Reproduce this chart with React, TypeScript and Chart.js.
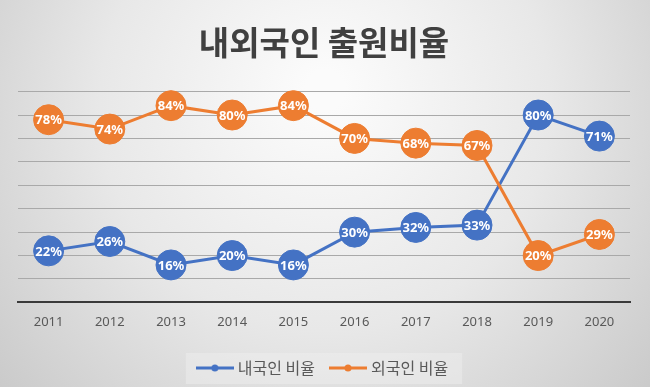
import React, { useEffect, useRef } from "react";
import { Chart, registerables } from "chart.js";

Chart.register(...registerables);

const categories = ["2011", "2012", "2013", "2014", "2015", "2016", "2017", "2018", "2019", "2020"];
const domesticRatio = [22, 26, 16, 20, 16, 30, 32, 33, 80, 71];
const foreignRatio = [78, 74, 84, 80, 84, 70, 68, 67, 20, 29];
const seriesNames = ["내국인 비율", "외국인 비율"];
const chartTitle = "내외국인 출원비율";
const yMin = 0;
const yMax = 90;
const yStep = 10;

const BLUE = "#4472C4";
const ORANGE = "#ED7D31";

function makeLegendIcon(color: string) {
  const c = document.createElement("canvas");
  c.width = 38;
  c.height = 10;
  const ctx = c.getContext("2d")!;
  ctx.strokeStyle = color;
  ctx.lineWidth = 3;
  ctx.beginPath();
  ctx.moveTo(0, 5);
  ctx.lineTo(38, 5);
  ctx.stroke();
  ctx.fillStyle = color;
  ctx.beginPath();
  ctx.arc(19, 5, 3.5, 0, Math.PI * 2);
  ctx.fill();
  return c;
}

const backgroundPlugin = {
  id: "bgPlugin",
  beforeDraw(chart: any) {
    const { ctx, width, height } = chart;
    ctx.save();
    const g = ctx.createRadialGradient(width / 2, 90, 20, width / 2, 120, 430);
    g.addColorStop(0, "#fbfbfb");
    g.addColorStop(0.5, "#e8e8e8");
    g.addColorStop(1, "#c9c9c9");
    ctx.fillStyle = g;
    ctx.fillRect(0, 0, width, height);
    const lg = chart.legend;
    if (lg && lg.legendHitBoxes && lg.legendHitBoxes.length) {
      const boxes = lg.legendHitBoxes;
      let l = Infinity, r = -Infinity, t = Infinity, b = -Infinity;
      boxes.forEach((h: any) => {
        l = Math.min(l, h.left);
        r = Math.max(r, h.left + h.width);
        t = Math.min(t, h.top);
        b = Math.max(b, h.top + h.height);
      });
      const cy = (t + b) / 2;
      ctx.fillStyle = "rgba(240,240,240,0.45)";
      ctx.fillRect(l - 14, cy - 15, r - l + 28, 31);
    }
    ctx.restore();
  },
};

const labelPlugin = {
  id: "pointLabels",
  afterDatasetsDraw(chart: any) {
    const { ctx } = chart;
    ctx.save();
    ctx.fillStyle = "#ffffff";
    ctx.font = "bold 13px 'Noto Sans', sans-serif";
    ctx.textAlign = "center";
    ctx.textBaseline = "middle";
    chart.data.datasets.forEach((ds: any, i: number) => {
      const meta = chart.getDatasetMeta(i);
      meta.data.forEach((pt: any, j: number) => {
        ctx.fillText(ds.data[j] + "%", pt.x, pt.y + 1);
      });
    });
    ctx.restore();
  },
};

export default function App() {
  const ref = useRef<HTMLCanvasElement | null>(null);
  useEffect(() => {
    document.body.style.margin = "0";
    const canvas = ref.current!;
    const icons = [makeLegendIcon(BLUE), makeLegendIcon(ORANGE)];
    const chart = new Chart(canvas, {
      type: "line",
      data: {
        labels: categories,
        datasets: [
          {
            label: seriesNames[0],
            data: domesticRatio,
            borderColor: BLUE,
            backgroundColor: BLUE,
            pointBackgroundColor: BLUE,
            pointBorderColor: BLUE,
            pointStyle: "circle",
            borderWidth: 3,
            pointRadius: 15,
            pointHoverRadius: 15,
            pointBorderWidth: 1,
            tension: 0,
            clip: false as any,
            order: 1,
          } as any,
          {
            label: seriesNames[1],
            data: foreignRatio,
            borderColor: ORANGE,
            backgroundColor: ORANGE,
            pointBackgroundColor: ORANGE,
            pointBorderColor: ORANGE,
            pointStyle: "circle",
            borderWidth: 3,
            pointRadius: 15,
            pointHoverRadius: 15,
            pointBorderWidth: 1,
            tension: 0,
            clip: false as any,
            order: 0,
          } as any,
        ],
      },
      options: {
        responsive: false,
        animation: false,
        layout: { padding: { left: 18, right: 20, top: 0, bottom: 1 } },
        scales: {
          x: {
            offset: true,
            grid: { display: false, drawTicks: false },
            border: { display: true, color: "#3a3a3a", width: 2 },
            ticks: {
              padding: 12,
              color: "#595959",
              font: { family: "'Noto Sans', sans-serif", size: 13 },
            },
          },
          y: {
            min: yMin,
            max: yMax,
            grid: { color: "#a9a9a9", lineWidth: 1, drawTicks: false },
            border: { display: false },
            ticks: { display: false, stepSize: yStep },
          },
        },
        plugins: {
          title: {
            display: true,
            text: chartTitle,
            color: "#404040",
            font: { family: "'Noto Sans CJK KR', sans-serif", size: 33, weight: "bold" },
            padding: { top: 23, bottom: 29 },
          },
          legend: {
            position: "bottom",
            labels: {
              usePointStyle: true,
              pointStyleWidth: 30,
              padding: 18,
              color: "#595959",
              font: { family: "'Noto Sans CJK KR', sans-serif", size: 16 },
              generateLabels: (ch: any) =>
                ch.data.datasets.map((ds: any, i: number) => ({
                  text: ds.label,
                  fillStyle: ds.borderColor,
                  strokeStyle: ds.borderColor,
                  lineWidth: 0,
                  pointStyle: icons[i],
                  fontColor: "#595959",
                  hidden: false,
                  datasetIndex: i,
                })),
            },
          },
          tooltip: { enabled: false },
        },
      },
      plugins: [backgroundPlugin, labelPlugin],
    });
    return () => chart.destroy();
  }, []);
  return (
    <div style={{ position: "fixed", left: 0, top: 0, width: 650, height: 387 }}>
      <canvas ref={ref} width={650} height={387} />
    </div>
  );
}
